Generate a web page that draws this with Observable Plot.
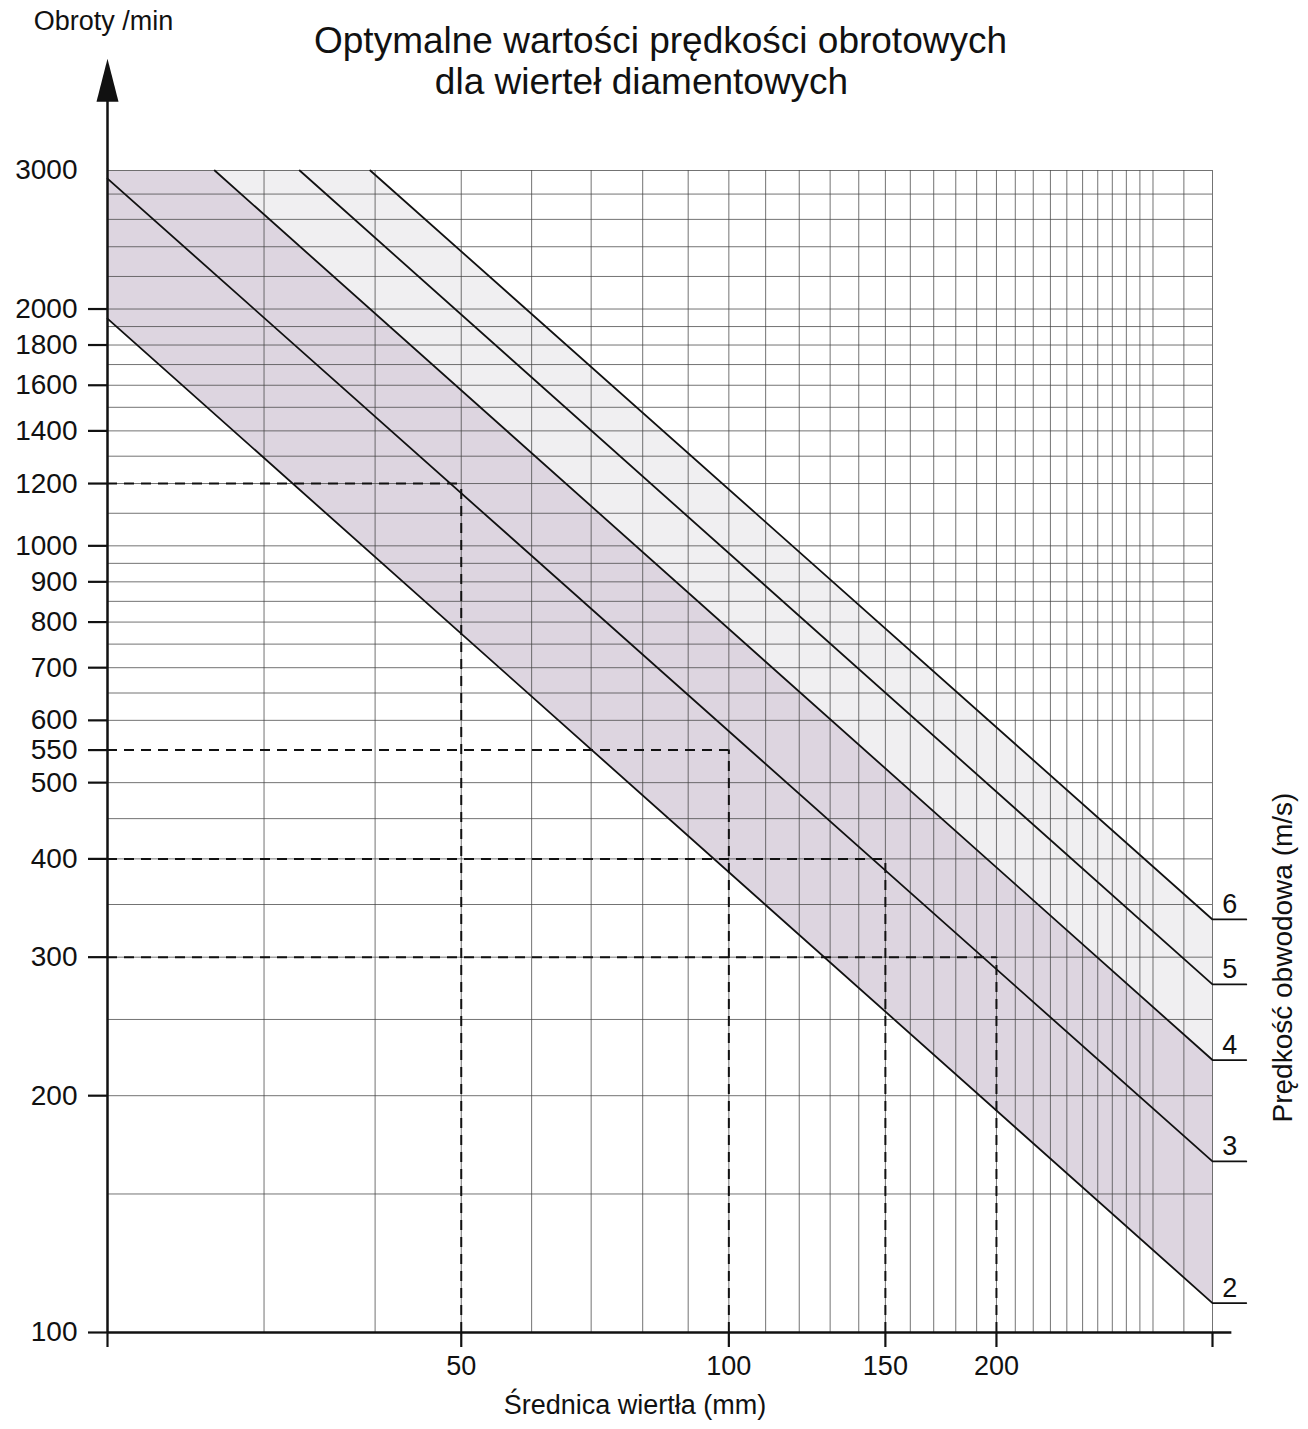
<!DOCTYPE html>
<html>
<head>
<meta charset="utf-8">
<script src="https://cdn.jsdelivr.net/npm/d3@7"></script>
<script src="https://cdn.jsdelivr.net/npm/@observablehq/plot@0.6"></script>
<style>
  html, body { margin: 0; padding: 0; background: #ffffff; }
  #chart { width: 1308px; height: 1429px; }
</style>
</head>
<body>
<div id="chart"></div>
<script>
// ---- data ----
const speeds = [2, 3, 4, 5, 6];                 // Prędkość obwodowa (m/s)
const startD = [20, 20, 26.4, 32.9, 39.5];      // start of each line: diameter (mm)
const startN = [1945, 2930, 3000, 3000, 3000];  // start of each line: rpm
const endD   = [350, 350, 350, 350, 350];       // end of each line: diameter (mm)
const endN   = [109, 165, 222, 277, 335];       // end of each line: rpm

const exampleD = [50, 100, 150, 200];           // dashed read-off examples
const exampleN = [1200, 550, 400, 300];

const xTickLabels = [50, 100, 150, 200];
const xTickMarks  = [20, 50, 100, 150, 200, 350];
const yTickLabels = [100, 200, 300, 400, 500, 550, 600, 700, 800, 900, 1000, 1200, 1400, 1600, 1800, 2000];
const yTopLabel   = [3000];

const xGrid = [30, 40, 50, 60, 70, 80, 90, 100, 110, 120, 130, 140, 150, 160, 170, 180, 190, 200,
               210, 220, 230, 240, 250, 260, 270, 280, 290, 300, 325, 350];
const yGrid = [150, 200, 250, 300, 350, 400, 450, 500, 600, 650, 700, 750, 800, 850, 900, 950, 1000,
               1100, 1200, 1300, 1400, 1500, 1600, 1700, 1800, 1900, 2000, 2200, 2400, 2600, 2800, 3000];

const xDomain = [20, 350];
const yDomain = [100, 3000];
const tailD = 382;

// ---- derived tables ----
const lineData = speeds.flatMap((v, i) => [
  {v, d: startD[i], n: startN[i]},
  {v, d: endD[i], n: endN[i]},
  {v, d: tailD, n: endN[i]}
]);
const labelData = speeds.map((v, i) => ({v, n: endN[i]}));
const band24 = [
  {d: xDomain[0], n: yDomain[1]},
  {d: startD[2], n: startN[2]},
  {d: endD[2], n: endN[2]},
  {d: endD[0], n: endN[0]},
  {d: startD[0], n: startN[0]}
];
const band46 = [
  {d: startD[2], n: startN[2]},
  {d: startD[4], n: startN[4]},
  {d: endD[4], n: endN[4]},
  {d: endD[2], n: endN[2]}
];
const examples = exampleD.map((d, i) => ({d, n: exampleN[i]}));

const arrowHead = {
  draw(ctx) {
    ctx.moveTo(0, -22);
    ctx.lineTo(11, 21);
    ctx.lineTo(-11, 21);
    ctx.closePath();
  }
};

const FONT = "'Liberation Sans', Arial, Helvetica, sans-serif";

const chart = Plot.plot({
  width: 1308,
  height: 1429,
  marginTop: 170,
  marginBottom: 97,
  marginLeft: 107,
  marginRight: 96,
  style: {fontFamily: FONT, background: "#ffffff", color: "#111"},
  x: {type: "log", domain: xDomain},
  y: {type: "log", domain: yDomain},
  marks: [
    // shaded bands
    Plot.line(band46, {x: "d", y: "n", fill: "#f0eff1", stroke: "none"}),
    Plot.line(band24, {x: "d", y: "n", fill: "#ddd5e0", stroke: "none"}),
    // grid
    Plot.ruleY(yGrid, {stroke: "#444", strokeWidth: 1, strokeOpacity: 0.75}),
    Plot.ruleX(xGrid, {stroke: "#444", strokeWidth: 1, strokeOpacity: 0.75}),
    // dashed read-off lines
    Plot.ruleY(examples, {y: "n", x1: xDomain[0], x2: "d", stroke: "#111", strokeWidth: 2, strokeDasharray: "10,7"}),
    Plot.ruleX(examples, {x: "d", y1: yDomain[0], y2: "n", stroke: "#111", strokeWidth: 2, strokeDasharray: "10,7"}),
    // speed lines
    Plot.line(lineData, {x: "d", y: "n", z: "v", stroke: "#111", strokeWidth: 1.8}),
    Plot.text(labelData, {x: 366, y: "n", text: d => String(d.v), dy: -15, fontSize: 27, fill: "#111"}),
    // axes lines
    Plot.ruleX([xDomain[0]], {y1: yDomain[0], y2: 3700, stroke: "#111", strokeWidth: 2.5}),
    Plot.dot([{d: xDomain[0], n: 3900}], {x: "d", y: "n", symbol: arrowHead, fill: "#111", stroke: "none"}),
    Plot.ruleY([yDomain[0]], {x1: xDomain[0], x2: 368, stroke: "#111", strokeWidth: 2.5}),
    // axes
    Plot.axisY(yTickLabels, {tickSize: 19, tickPadding: 11, fontSize: 28, strokeWidth: 2.2, tickFormat: d3.format("d"), label: null}),
    Plot.axisY(yTopLabel, {tickSize: 0, tickPadding: 30, fontSize: 28, tickFormat: d3.format("d"), label: null}),
    Plot.axisX(xTickMarks, {tickSize: 15, tickPadding: 8, fontSize: 27, strokeWidth: 2.2,
      tickFormat: d => xTickLabels.includes(d) ? String(d) : "", label: null}),
    // titles
    Plot.text(["Średnica wiertła (mm)"], {frameAnchor: "bottom", dx: -25, dy: 81, fontSize: 27, fill: "#111"}),
    Plot.text(["Prędkość obwodowa (m/s)"], {frameAnchor: "right", textAnchor: "middle", dx: 71, dy: 206, rotate: -90, fontSize: 28, fill: "#111"}),
    Plot.text(["Obroty /min"], {frameAnchor: "top-left", textAnchor: "middle", lineAnchor: "middle", dx: -4, dy: -149, fontSize: 27, fill: "#111"}),
    Plot.text(["Optymalne wartości prędkości obrotowych"], {frameAnchor: "top-left", textAnchor: "middle", lineAnchor: "middle", dx: 553, dy: -129, fontSize: 37, fill: "#111"}),
    Plot.text(["dla wierteł diamentowych"], {frameAnchor: "top-left", textAnchor: "middle", lineAnchor: "middle", dx: 534, dy: -88, fontSize: 37, fill: "#111"})
  ]
});

document.getElementById("chart").appendChild(chart);
</script>
</body>
</html>
